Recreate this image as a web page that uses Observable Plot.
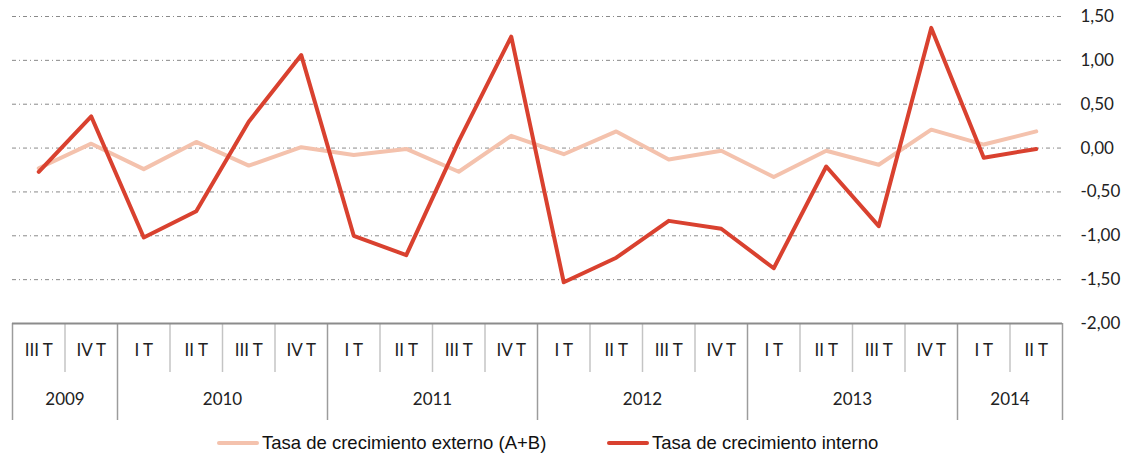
<!DOCTYPE html>
<html><head><meta charset="utf-8">
<script src="https://cdn.jsdelivr.net/npm/d3@7"></script>
<script src="https://cdn.jsdelivr.net/npm/@observablehq/plot@0.6"></script>
<style>
body{margin:0;background:#fff;}
#wrap{position:relative;width:1123px;height:455px;overflow:hidden;}
.leg{position:absolute;top:433px;height:20px;font:18.5px "Liberation Sans",Arial,sans-serif;color:#111;display:flex;align-items:center;white-space:nowrap;}
.sw{display:inline-block;width:42px;height:4px;margin-right:3px;border-radius:2px;}
</style>
</head><body>
<div id="wrap"></div>
<script>
const quarters = ["III T","IV T","I T","II T","III T","IV T","I T","II T","III T","IV T","I T","II T","III T","IV T","I T","II T","III T","IV T","I T","II T"];
const years = [2009,2009,2010,2010,2010,2010,2011,2011,2011,2011,2012,2012,2012,2012,2013,2013,2013,2013,2014,2014];
const externo = [-0.23,0.05,-0.24,0.07,-0.20,0.01,-0.08,-0.01,-0.27,0.14,-0.07,0.19,-0.13,-0.03,-0.33,-0.03,-0.19,0.21,0.04,0.19];
const interno = [-0.27,0.36,-1.02,-0.72,0.30,1.06,-1.00,-1.22,0.08,1.27,-1.53,-1.25,-0.83,-0.92,-1.37,-0.21,-0.89,1.37,-0.11,-0.01];
const yTicks = [-2,-1.5,-1,-0.5,0,0.5,1,1.5];
const seriesNames = ["Tasa de crecimiento externo (A+B)","Tasa de crecimiento interno"];
const colors = ["#F4C2AD","#D9412F"];

const rows = quarters.map((q,i)=>({i, q, year: years[i], ext: externo[i], int: interno[i]}));
const yearGroups = d3.groups(rows, d=>d.year).map(([y,g])=>({year:y, c:d3.mean(g,d=>d.i), start:g[0].i-0.5, end:g[g.length-1].i+0.5}));
const yearBounds = [...new Set(yearGroups.flatMap(g=>[g.start,g.end]))];
const quarterBounds = rows.filter((d,k)=>k>0 && rows[k-1].year===d.year).map(d=>d.i-0.5);
const fmt = v => v.toFixed(2).replace(".", ",");

const chart = Plot.plot({
  width:1123, height:425,
  marginLeft:12, marginRight:61, marginTop:16, marginBottom:102,
  x:{domain:[-0.5, quarters.length-0.5]},
  y:{domain:[d3.min(yTicks), d3.max(yTicks)]},
  style:{fontFamily:"Lato, 'Open Sans', sans-serif", fontSize:"17px", color:"#222", background:"white", overflow:"visible"},
  marks:[
    Plot.ruleY(yTicks.slice(1), {stroke:"#8a8a8a", strokeWidth:1, strokeDasharray:"4,3,1,3"}),
    Plot.axisY(yTicks, {anchor:"right", tickSize:0, tickPadding:18, textAnchor:"start", tickFormat:fmt, fontSize:17, label:null}),
    Plot.axisX(quarterBounds, {tickSize:49, stroke:"#c4c4c4", strokeWidth:1.5, tickFormat:()=>"", label:null}),
    Plot.axisX(yearBounds, {tickSize:97, stroke:"#9c9c9c", strokeWidth:1.5, tickFormat:()=>"", label:null}),
    Plot.ruleY([d3.min(yTicks)], {stroke:"#8c8c8c", strokeWidth:2}),
    Plot.text(rows, {x:"i", text:"q", frameAnchor:"bottom", dy:32, fontSize:17, fill:"#222"}),
    Plot.text(yearGroups, {x:"c", text:d=>String(d.year), frameAnchor:"bottom", dy:81, fontSize:17, fill:"#222"}),
    Plot.line(rows, {x:"i", y:"ext", stroke:colors[0], strokeWidth:4}),
    Plot.line(rows, {x:"i", y:"int", stroke:colors[1], strokeWidth:4})
  ]
});
const wrap = document.getElementById("wrap");
wrap.appendChild(chart);
const legLeft = [217, 607];
seriesNames.forEach((n,k)=>{
  const d = document.createElement("div");
  d.className = "leg";
  d.style.left = legLeft[k] + "px";
  d.innerHTML = `<span class="sw" style="background:${colors[k]}"></span><span>${n}</span>`;
  wrap.appendChild(d);
});
</script>
</body></html>
